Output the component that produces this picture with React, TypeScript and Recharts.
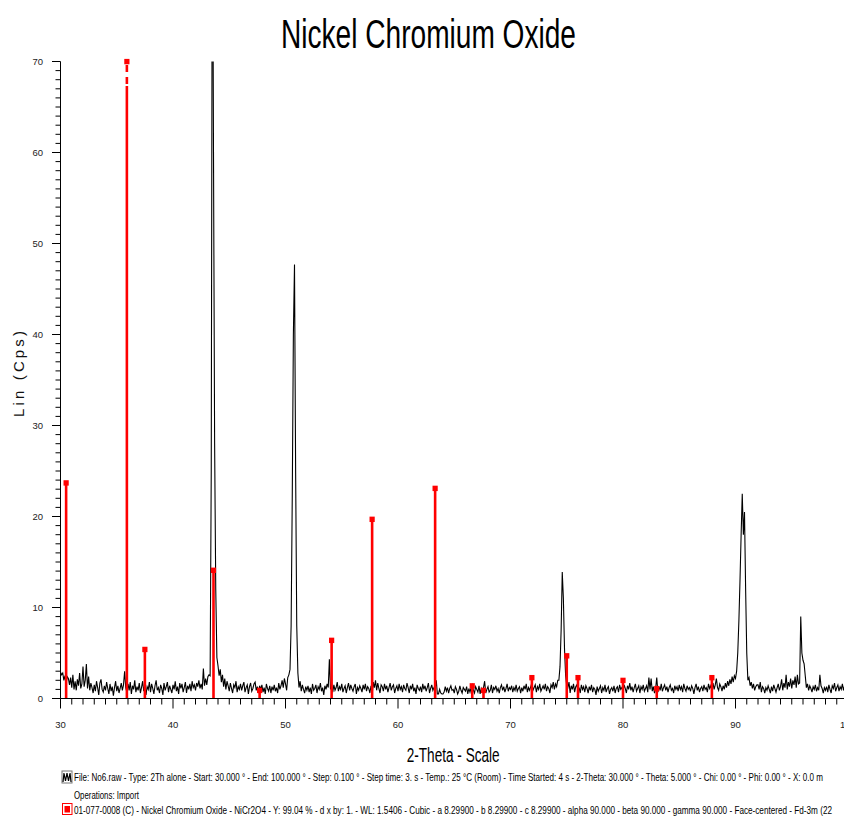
import React from 'react';
import { ComposedChart, Line, XAxis, YAxis, ReferenceLine, ReferenceDot } from 'recharts';

// Scan: 2-Theta from 30.0 to 100.0, step 0.1 (counts per decade)
const SCAN_START = 30.0;
const SCAN_STEP = 0.1;

const COUNTS_30S = [
  2.9,2.6,2.8,2.0,2.5,1.7,2.4,2.2,1.5,2.3,
  1.2,2.6,1.0,1.9,0.9,2.1,1.4,2.8,1.1,1.6,
  3.5,1.3,2.0,3.8,1.1,2.4,0.9,1.7,1.2,0.6,
  1.5,0.8,1.9,1.2,0.4,1.7,2.1,1.0,0.7,1.4,
  0.9,1.8,1.1,0.5,1.6,0.8,1.3,0.3,1.2,1.9,
  0.8,1.4,0.6,1.1,1.7,0.9,1.5,3.0,1.2,0.7,
  1.6,0.9,1.8,0.5,1.4,1.0,2.0,0.7,1.3,0.9,
  1.7,0.6,1.2,1.9,0.8,1.5,0.4,1.3,1.0,1.8,
  0.7,1.6,1.1,0.5,1.4,2.0,0.9,1.2,0.6,1.5,
  1.1,0.4,1.7,0.9,1.3,1.8,0.7,1.4,1.0,0.6,
];
const COUNTS_40S = [
  1.5,1.0,1.9,0.8,1.3,0.5,1.7,1.1,1.6,0.7,
  1.2,1.8,0.6,1.4,1.0,1.6,0.8,1.9,1.2,1.5,
  0.9,1.7,1.3,2.0,1.1,1.6,1.0,3.3,1.4,2.2,
  1.5,2.4,2.6,2.5,25,95,60,28,12,4.5,
  3.6,2.5,3.2,1.8,2.6,1.3,2.2,1.0,1.9,1.4,
  0.8,1.7,1.1,0.6,1.5,1.2,1.9,0.7,1.3,1.0,
  1.6,0.9,1.4,1.8,0.7,1.2,1.5,0.5,1.3,1.7,
  0.8,1.1,1.6,1.8,0.9,1.3,0.6,1.4,1.0,1.5,
  0.7,1.2,0.5,1.6,1.1,0.8,1.4,0.6,1.3,0.9,
  1.5,0.8,1.2,0.6,1.7,1.0,1.4,2.0,1.2,2.2,
];
const COUNTS_50S = [
  1.6,0.9,2.3,2.6,3.2,8,22,40,47.7,25,
  8,2.8,1.2,1.9,0.8,1.5,1.0,0.6,1.3,0.9,
  1.4,0.7,1.2,0.5,1.6,0.9,1.1,1.5,0.6,1.3,
  1.0,1.7,0.8,1.2,0.4,1.4,1.0,1.6,1.2,4.3,
  1.0,1.3,0.7,1.5,0.9,1.2,1.8,0.8,1.3,1.0,
  1.6,0.7,1.1,1.4,0.6,1.2,1.7,0.9,1.5,1.1,
  0.8,1.3,1.6,0.5,1.2,0.9,1.4,1.1,0.7,1.5,
  1.0,1.6,0.8,1.3,1.1,0.6,1.4,0.4,1.8,1.2,
  2.0,0.9,1.7,1.1,0.6,1.5,1.3,0.8,1.6,1.0,
  1.4,0.7,1.2,1.7,0.9,1.3,1.5,0.6,1.1,1.4,
];
const COUNTS_60S = [
  0.8,1.6,1.0,1.3,0.7,1.5,1.1,0.9,1.7,1.2,
  0.6,1.4,1.0,1.6,0.8,1.2,0.5,1.5,1.1,0.9,
  1.3,0.7,1.6,1.0,1.4,0.8,1.2,1.7,0.6,1.1,
  1.5,0.9,1.2,1.0,2.0,0.5,0.5,1.0,0.6,0.5,
  0.5,0.7,1.3,0.8,1.2,0.6,1.1,1.4,0.9,1.0,
  0.6,1.3,1.0,0.5,0.8,1.4,0.9,0.6,1.2,1.0,
  0.8,1.3,0.5,1.1,0.7,1.2,1.5,0.9,0.6,1.3,
  1.0,0.7,1.4,0.5,1.1,0.8,1.2,1.9,0.6,1.0,
  1.3,0.7,0.9,1.5,0.6,1.2,1.0,1.4,0.8,1.1,
  0.6,1.2,1.5,0.9,1.3,0.7,1.1,1.6,0.8,1.2,
];
const COUNTS_70S = [
  1.0,1.4,0.7,1.2,0.9,1.5,0.8,1.1,1.3,0.6,
  1.2,0.8,1.4,1.0,1.6,0.7,1.2,0.9,1.3,1.7,
  0.9,1.2,1.5,0.7,1.3,1.0,1.6,0.8,1.1,1.4,
  1.0,1.6,0.8,1.3,1.1,0.6,1.5,1.2,1.8,1.0,
  1.6,1.3,2.0,2.0,3.5,7.5,13.9,11,5.5,2.5,
  1.4,1.2,1.8,0.6,1.4,1.0,1.6,0.7,1.3,1.5,
  0.8,1.2,0.6,1.5,1.0,1.3,0.7,1.4,1.1,0.6,
  1.3,0.9,1.5,0.7,1.2,1.0,0.4,1.3,0.8,1.1,
  1.4,0.6,1.2,0.9,1.5,0.7,1.1,1.3,0.5,1.0,
  1.2,0.8,1.4,0.6,1.1,1.3,0.7,1.5,1.0,1.2,
];
const COUNTS_80S = [
  0.8,1.5,1.1,0.6,1.4,1.0,1.7,0.9,1.3,0.7,
  1.2,1.6,0.8,1.1,1.4,0.6,1.3,1.0,1.5,0.8,
  1.1,1.4,0.7,2.3,1.0,2.2,0.8,1.3,0.6,1.1,
  2.3,0.7,1.3,0.9,1.6,0.8,1.2,1.5,0.9,1.3,
  0.7,1.2,1.5,0.9,1.1,0.6,1.4,1.0,1.3,0.8,
  1.5,1.0,1.3,0.7,1.6,1.1,0.8,1.4,1.0,1.2,
  0.8,1.4,1.1,0.5,1.2,1.6,0.9,1.3,0.7,1.1,
  1.3,0.8,1.5,1.0,1.2,0.7,1.6,1.1,1.4,0.9,
  1.7,1.0,1.5,2.2,1.2,0.9,1.6,1.3,0.8,1.4,
  1.0,1.7,1.2,1.9,1.4,2.1,1.6,2.4,1.8,2.5,
];
const COUNTS_90S = [
  2.2,3.0,5.0,8.5,13,18,22.5,18,20.5,12,
  5.0,2.0,2.3,1.4,1.8,1.1,1.6,0.9,1.3,1.5,
  1.5,1.0,1.8,0.7,1.3,1.1,0.6,1.2,0.9,1.4,
  1.0,0.6,1.3,0.8,1.5,1.1,0.7,1.2,1.6,0.9,
  1.3,2.1,0.9,1.7,1.2,2.6,1.0,1.8,1.3,2.2,
  1.1,2.0,1.5,2.4,1.2,2.6,1.6,1.7,9.0,5.0,
  4.2,3.8,2.5,1.2,1.6,0.9,1.4,1.1,0.7,1.3,
  1.0,1.5,0.8,1.2,0.9,2.6,1.4,1.1,0.6,1.2,
  0.9,1.3,0.7,1.5,1.0,0.6,1.4,1.1,1.7,0.8,
  1.2,1.5,0.8,1.3,1.0,1.6,0.9,1.4,1.1,0.8,
];
const COUNTS_100 = [1.0];

// Reference card 01-077-0008 NiCr2O4 stick pattern (displayed heights)
const STICK_2THETA = [30.5, 35.9, 37.5, 43.6, 47.7, 54.1, 57.7, 63.3, 66.6, 67.6, 71.9, 75.0, 76.0, 80.0, 83.0, 87.9];
const STICK_HEIGHT = [23.7, 100, 5.4, 14.1, 0.9, 6.4, 19.7, 23.1, 1.4, 0.9, 2.3, 4.7, 2.3, 2.0, 1.1, 2.3];

const X_MAJOR = [30, 40, 50, 60, 70, 80, 90, 100];
const Y_MAJOR = [0, 10, 20, 30, 40, 50, 60, 70];
const X_DOMAIN: [number, number] = [30, 100];
const Y_DOMAIN: [number, number] = [0, 70];

const TITLE = 'Nickel Chromium Oxide';
const X_LABEL = '2-Theta - Scale';
const Y_LABEL = 'Lin (Cps)';
const LEGEND_1 = 'File: No6.raw - Type: 2Th alone - Start: 30.000 ° - End: 100.000 ° - Step: 0.100 ° - Step time: 3. s - Temp.: 25 °C (Room) - Time Started: 4 s - 2-Theta: 30.000 ° - Theta: 5.000 ° - Chi: 0.00 ° - Phi: 0.00 ° - X: 0.0 m';
const LEGEND_2 = 'Operations: Import';
const LEGEND_3 = '01-077-0008 (C) - Nickel Chromium Oxide - NiCr2O4 - Y: 99.04 % - d x by: 1. - WL: 1.5406 - Cubic - a 8.29900 - b 8.29900 - c 8.29900 - alpha 90.000 - beta 90.000 - gamma 90.000 - Face-centered - Fd-3m (22';

const FONT = "'Liberation Sans Narrow', 'Arial Narrow', 'Liberation Sans', Arial, sans-serif";
const RED = '#ff0000';

const ALL_COUNTS = [...COUNTS_30S, ...COUNTS_40S, ...COUNTS_50S, ...COUNTS_60S, ...COUNTS_70S, ...COUNTS_80S, ...COUNTS_90S, ...COUNTS_100];
const data = ALL_COUNTS.map((c, i) => ({ tt: Math.round((SCAN_START + i * SCAN_STEP) * 10) / 10, cps: c }));

const X_TICKS: number[] = [];
for (let v = X_DOMAIN[0]; v <= X_DOMAIN[1]; v++) X_TICKS.push(v);
const Y_TICKS: number[] = [];
for (let v = Y_DOMAIN[0]; v <= Y_DOMAIN[1]; v++) Y_TICKS.push(v);

function XTick(props: any) {
  const { x, y, payload } = props;
  const v = payload.value;
  const major = X_MAJOR.includes(v);
  return (
    <g>
      <line x1={x} x2={x} y1={y} y2={y + (major ? 10 : 6)} stroke="#000" strokeWidth={1} />
      {major && (
        <text x={x} y={y + 29.8} textAnchor="middle" fontSize={9.5} fill="#222" fontFamily={FONT}>{v}</text>
      )}
    </g>
  );
}

function YTick(props: any) {
  const { x, y, payload } = props;
  const v = payload.value;
  const major = Y_MAJOR.includes(v);
  return (
    <g>
      <line x1={x - (major ? 8.5 : 5)} x2={x} y1={y} y2={y} stroke="#000" strokeWidth={1} />
      {major && (
        <text x={x - 17.5} y={y + 3.6} textAnchor="end" fontSize={9.5} fill="#222" fontFamily={FONT}>{v}</text>
      )}
    </g>
  );
}

const StickMarker = (p: any) => (
  <rect x={p.cx - 2.6} y={p.cy - 2.6} width={5.2} height={5.4} fill={RED} />
);

export default function App() {
  const yMax = Y_DOMAIN[1];
  return (
    <div style={{ position: 'absolute', left: 0, top: 0, width: 844, height: 818, overflow: 'hidden', background: '#fff' }}>
      <ComposedChart
        width={860}
        height={818}
        data={data}
        margin={{ top: 61.5, right: 12, bottom: 79.5, left: 0 }}
      >
        <XAxis
          type="number"
          dataKey="tt"
          domain={X_DOMAIN}
          ticks={X_TICKS}
          interval={0}
          tickSize={0}
          tickMargin={0}
          tickLine={false}
          tick={(p: any) => <XTick {...p} />}
          axisLine={{ stroke: '#000', strokeWidth: 1 }}
          height={40}
          allowDataOverflow
        />
        <YAxis
          type="number"
          domain={Y_DOMAIN}
          ticks={Y_TICKS}
          interval={0}
          tickSize={0}
          tickMargin={0}
          tickLine={false}
          tick={(p: any) => <YTick {...p} />}
          axisLine={{ stroke: '#000', strokeWidth: 1 }}
          width={60.5}
          allowDataOverflow
        />
        <Line
          type="linear"
          dataKey="cps"
          stroke="#000"
          strokeWidth={1.1}
          dot={false}
          activeDot={false}
          isAnimationActive={false}
        />
        {STICK_2THETA.map((t, i) => {
          const h = STICK_HEIGHT[i];
          const clipped = h > yMax;
          const top = clipped ? yMax : h;
          const solidTop = clipped ? yMax - 2.7 : top;
          return (
            <ReferenceLine
              key={'s' + i}
              segment={[{ x: t, y: 0 }, { x: t, y: solidTop }]}
              stroke={RED}
              strokeWidth={2.6}
              ifOverflow="visible"
            />
          );
        })}
        {STICK_2THETA.map((t, i) => {
          const h = STICK_HEIGHT[i];
          if (h <= yMax) return null;
          return (
            <ReferenceLine
              key={'d' + i}
              segment={[{ x: t, y: yMax - 2.7 }, { x: t, y: yMax }]}
              stroke={RED}
              strokeWidth={2.6}
              strokeDasharray="0 2 7 5 7 6"
              ifOverflow="visible"
            />
          );
        })}
        {STICK_2THETA.map((t, i) => {
          const h = STICK_HEIGHT[i];
          const top = h > yMax ? yMax : h;
          return (
            <ReferenceDot key={'m' + i} x={t} y={top} r={3} shape={StickMarker} ifOverflow="visible" />
          );
        })}
      </ComposedChart>
      <svg width={844} height={818} style={{ position: 'absolute', left: 0, top: 0, pointerEvents: 'none' }}>
        <text x={428.5} y={47.5} fontSize={40} textAnchor="middle" textLength={295} lengthAdjust="spacingAndGlyphs" fontFamily={FONT} fill="#000">{TITLE}</text>
        <text x={453.2} y={761.5} fontSize={20} textAnchor="middle" textLength={93} lengthAdjust="spacingAndGlyphs" fontFamily={FONT} fill="#000">{X_LABEL}</text>
        <text x={0} y={0} transform="translate(24,374) rotate(-90)" fontSize={15} textAnchor="middle" textLength={86} lengthAdjust="spacing" fontFamily={FONT} fill="#111">{Y_LABEL}</text>
        <g>
          <rect x={62} y={771} width={10} height={12} fill="#fff" stroke="#777" strokeWidth={1} />
          <polyline points="63,782 64,773 65.5,781 67,773 68.5,781 70,773 71,782" fill="none" stroke="#000" strokeWidth={1.2} />
          <text x={74} y={781} fontSize={11.5} textLength={749} lengthAdjust="spacingAndGlyphs" fontFamily={FONT} fill="#000">{LEGEND_1}</text>
          <text x={74} y={799} fontSize={11.5} textLength={65} lengthAdjust="spacingAndGlyphs" fontFamily={FONT} fill="#000">{LEGEND_2}</text>
          <rect x={62.5} y={803.5} width={9.5} height={11} fill="#fff" stroke={RED} strokeWidth={1} />
          <rect x={64.5} y={806} width={5.5} height={6.5} fill={RED} />
          <text x={74} y={814} fontSize={11.5} textLength={758} lengthAdjust="spacingAndGlyphs" fontFamily={FONT} fill="#000">{LEGEND_3}</text>
        </g>
      </svg>
    </div>
  );
}
